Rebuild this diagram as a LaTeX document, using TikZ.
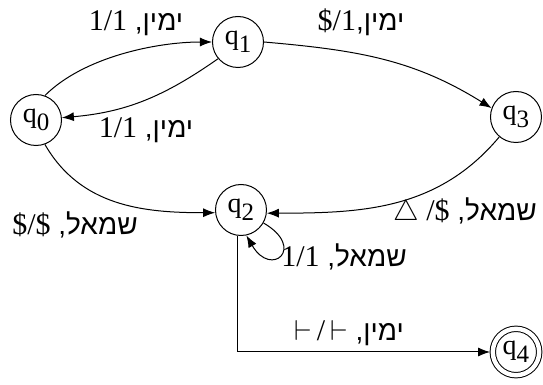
\documentclass[tikz,border=0pt]{standalone}
\usepackage{fontspec}
\setmainfont{Liberation Serif}
\newfontfamily\hebfont[Script=Hebrew]{Liberation Sans}
\TeXXeTstate=1
\usetikzlibrary{arrows.meta}

\newcommand{\st}[1]{q\raisebox{-0.6ex}{\fontsize{12.5}{13}\selectfont #1}}
\newcommand{\lab}[2]{\beginR{\hebfont #1}\beginL{\fontsize{15}{16}\selectfont #2}\endL\endR}

\begin{document}
\begin{tikzpicture}[
        x=0.5pt, y=0.5pt,
        state/.style={
            draw,
            circle,
            minimum size=25.5pt,
            inner sep=0pt,
            line width=0.5pt,
            font=\fontsize{14}{16}\selectfont
        },
        accept/.style={
            state,
            minimum size=23.2pt,
            double,
            double distance=2.2pt,
            outer sep=1.35pt
        },
        edge/.style={-{Latex[length=6pt,width=4.5pt]}, line width=0.5pt},
        lbl/.style={inner sep=0pt, font=\fontsize{14}{16}\selectfont}
    ]
        \useasboundingbox (0,0) rectangle (543,-385);

        \node[state] (q0) at (36,-120) {\st{0}};
        \node[state] (q1) at (238,-42) {\st{1}};
        \node[state] (q3) at (516,-117) {\st{3}};
        \node[state] (q2) at (241,-210) {\st{2}};
        \node[accept] (q4) at (516,-352) {\st{4}};

        \draw[edge] (q0.70) to[out=45, in=180, looseness=0.8] (q1.west);
        \draw[edge] (q1.220) to[out=215, in=5] (q0.5);
        \draw[edge] (q1.east) to[out=-5, in=148] (q3.160);
        \draw[edge] (q0.-70) to[out=-60, in=180] (q2.186);
        \draw[edge] (q3.230) to[out=230, in=0] (q2.-7);
        \draw[edge] (q2.-30) to[out=-30, in=-60, looseness=6] (q2.-78);
        \draw[edge] (q2.262) |- (q4.west);

        \node[lbl] (a01) at (136,-23) {\lab{ימין, }{1/1}};
        \node[lbl] (a10) at (146,-130) {\lab{ימין, }{1/1}};
        \node[lbl] (a13) at (361,-22) {\lab{ימין,}{\$/1}};
        \node[lbl] (a02) at (75,-225) {\lab{שמאל, }{\$/\$}};
        \node[lbl] (a32) at (465,-212) {\lab{שמאל, }{$\triangle$\ /\$}};
        \node[lbl] (a22) at (344,-257) {\lab{שמאל, }{1/1}};
        \node[lbl] (a24) at (349,-333) {\lab{ימין, }{$\vdash$\,/\,$\vdash$}};
    \end{tikzpicture}
\end{document}
